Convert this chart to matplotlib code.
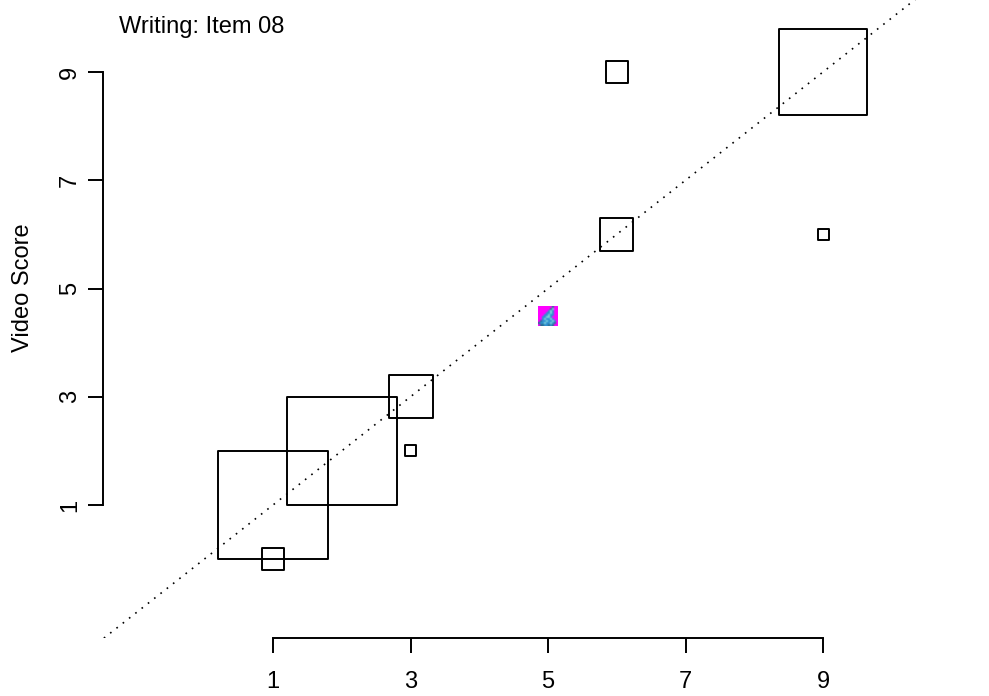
import numpy as np
import matplotlib
matplotlib.use("Agg")
import matplotlib.pyplot as plt
from matplotlib.path import Path

plt.rcParams["font.family"] = ["Liberation Sans", "DejaVu Sans"]

# x, y and count of each square
xScore = [1, 1, 2, 3, 3, 6, 6, 9, 9]
yScore = [1, 0, 2, 3, 2, 6, 9, 9, 6]
counts = [10, 2, 10, 4, 1, 3, 2, 8, 1]
xTicks = [1, 3, 5, 7, 9]
yTicks = [1, 3, 5, 7, 9]
iconX = 5
iconY = 4.5

# the little picture at (5, 4.5), one digit per colour
iconRows = ["0000000300",
            "0000003200",
            "0000012100",
            "0000112100",
            "0001121100",
            "0011221000",
            "0012112100",
            "0311211210",
            "3112112130",
            "0331131300"]
iconColors = ["#ff00ff", "#2e8fd0", "#7fd4dc", "#2a6f8f"]

W, H = 989, 696
pxX = 68.75
pxY = 54.125
left, bottom = 103, 638

fig = plt.figure(figsize=(W / 100, H / 100), dpi=100)
ax = fig.add_axes([left / W, (H - bottom) / H, (W - left) / W, bottom / H])

# squares in the reference are a bit flatter than wide
flatBox = Path([(-0.5, -0.49), (0.5, -0.49), (0.5, 0.49), (-0.5, 0.49), (-0.5, -0.49)], closed=True)
sides = np.array(counts) * 11 * 0.72
ax.scatter(xScore, yScore, s=sides ** 2, marker=flatBox, facecolors="none",
           edgecolors="black", linewidths=1.4, clip_on=False, zorder=3)

ax.plot([-1.46, 20], [-1.46, 20], color="black", linestyle=(0, (1, 3.8)), linewidth=1.2)

iconRgb = np.array([[matplotlib.colors.to_rgb(iconColors[int(c)]) for c in row] for row in iconRows])
ax.imshow(iconRgb, extent=[iconX - 10 / pxX, iconX + 10 / pxX, iconY - 10 / pxY, iconY + 10 / pxY],
          aspect="auto", interpolation="bilinear", zorder=4)

ax.set_xlim(1 + (left - 273) / pxX, 1 + (W - 273) / pxX)
ax.set_ylim(1 - (bottom - 505) / pxY, 1 + 505 / pxY)

for side in ["top", "right"]:
    ax.spines[side].set_visible(False)
ax.spines["left"].set_bounds(1, 9)
ax.spines["bottom"].set_bounds(1, 9)
ax.spines["left"].set_linewidth(1.4)
ax.spines["bottom"].set_linewidth(1.4)

ax.set_xticks(xTicks)
ax.set_yticks(yTicks)
ax.tick_params(axis="both", length=11, width=1.4, labelsize=17)
ax.tick_params(axis="x", pad=13)
ax.tick_params(axis="y", pad=5)
plt.setp(ax.get_yticklabels(), rotation=90, va="center")

fig.text(119 / W, 1 - 26.5 / H, "Writing: Item 08", fontsize=17, va="center", ha="left")
fig.text(23.5 / W, 1 - 288 / H, "Video Score", fontsize=17, rotation=90, va="center", ha="center")

fig.savefig("out.png", dpi=100)
